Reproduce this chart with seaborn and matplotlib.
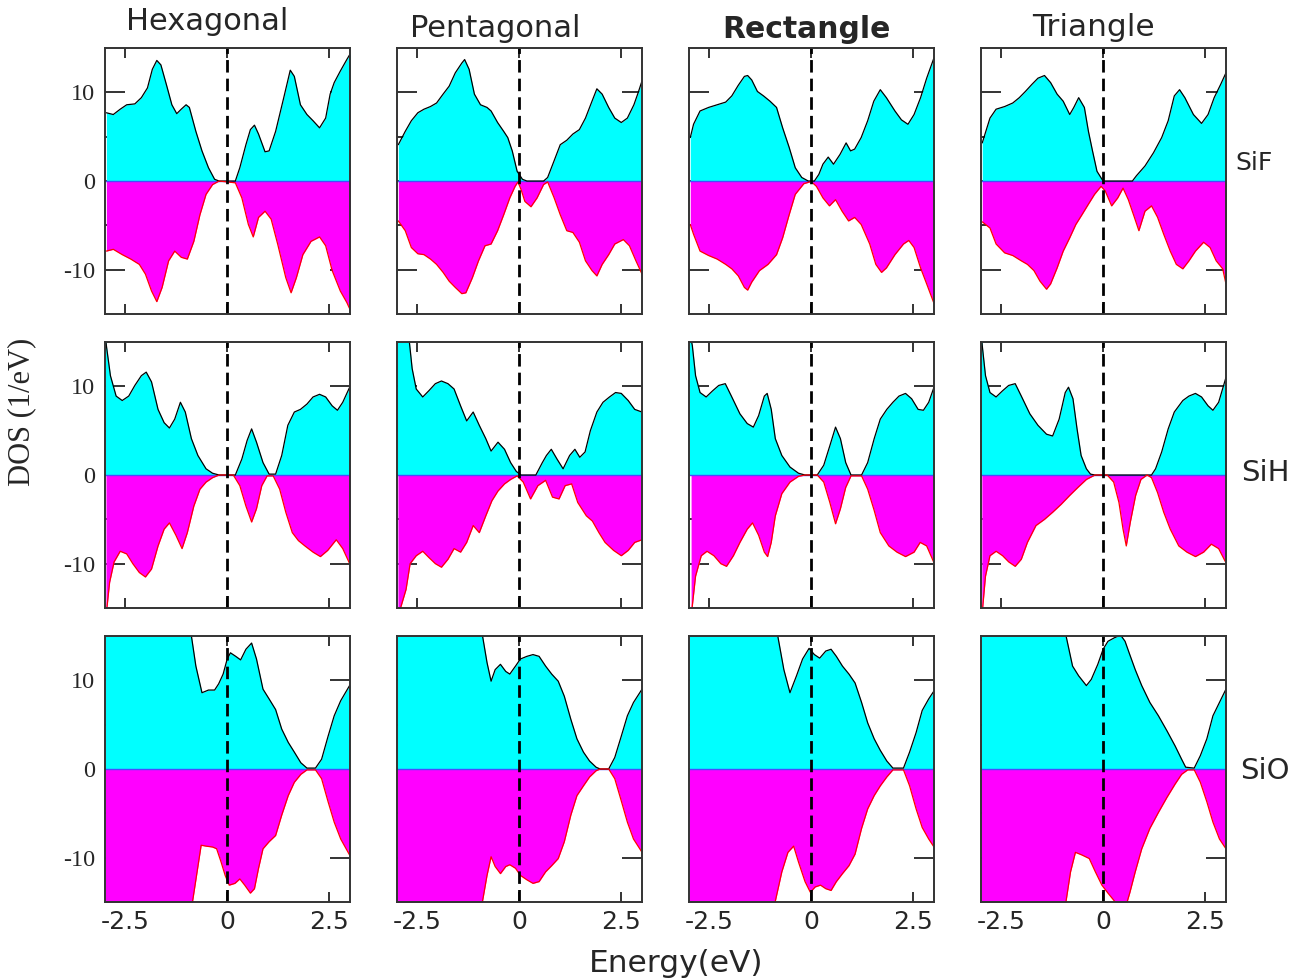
import numpy as np
import matplotlib
matplotlib.use("Agg")
import matplotlib.pyplot as plt
import seaborn as sns

# ---- spin-resolved DOS, (energy eV, DOS 1/eV); spin-down stored as magnitudes ----
HEX_SIF_UP = [(-2.97, 7.7), (-2.8, 7.5), (-2.63, 8.1), (-2.47, 8.6), (-2.27, 8.7), (-2.11, 9.4), (-1.96, 10.5),
              (-1.84, 12.6), (-1.73, 13.6), (-1.63, 13.1), (-1.49, 10.8), (-1.36, 8.6), (-1.24, 7.6), (-1.13, 8.1),
              (-1.01, 8.6), (-0.93, 8.3), (-0.77, 5.6), (-0.62, 3.4), (-0.46, 1.5), (-0.31, 0.2), (-0.2, 0.0),
              (0.2, 0.0), (0.31, 1.5), (0.46, 4.1), (0.57, 5.8), (0.67, 6.3), (0.77, 5.3), (0.93, 3.3), (1.03, 3.4),
              (1.19, 5.6), (1.39, 9.4), (1.55, 12.5), (1.65, 11.8), (1.8, 8.6), (1.96, 7.5), (2.11, 6.8), (2.27, 6.0),
              (2.42, 7.1), (2.53, 9.8), (2.63, 11.1), (2.78, 12.4), (2.94, 13.7), (3.03, 14.4)]
HEX_SIF_DN = [(-2.97, 7.9), (-2.8, 7.7), (-2.58, 8.3), (-2.37, 8.8), (-2.16, 9.4), (-2.01, 10.5), (-1.86, 12.4),
              (-1.73, 13.6), (-1.6, 12.0), (-1.44, 9.0), (-1.29, 7.9), (-1.13, 8.6), (-0.98, 8.8), (-0.82, 6.8),
              (-0.67, 3.8), (-0.52, 1.5), (-0.36, 0.4), (-0.2, 0.0), (0.2, 0.2), (0.36, 1.9), (0.52, 4.9),
              (0.64, 6.3), (0.77, 4.1), (0.93, 3.4), (1.08, 4.3), (1.24, 7.1), (1.44, 10.9), (1.57, 12.6),
              (1.7, 10.9), (1.86, 8.3), (2.06, 6.8), (2.27, 6.3), (2.42, 7.3), (2.58, 10.1), (2.78, 12.4),
              (2.94, 13.7), (3.03, 14.6)]

PENT_SIF_UP = [(-2.97, 4.1), (-2.8, 5.6), (-2.65, 6.8), (-2.49, 7.7), (-2.34, 8.1), (-2.18, 8.4), (-2.03, 8.8),
               (-1.87, 9.8), (-1.72, 10.7), (-1.57, 12.2), (-1.41, 13.3), (-1.34, 13.7), (-1.23, 12.6), (-1.1, 9.8),
               (-0.95, 8.6), (-0.79, 8.3), (-0.69, 7.9), (-0.53, 6.6), (-0.38, 5.6), (-0.28, 4.9), (-0.17, 3.4),
               (-0.05, 1.1), (0.08, 0.2), (0.19, 0.0), (0.6, 0.0), (0.7, 0.4), (0.86, 2.3), (1.01, 4.1),
               (1.17, 4.6), (1.32, 5.3), (1.48, 5.8), (1.63, 7.1), (1.79, 9.0), (1.91, 10.4), (2.04, 9.8),
               (2.2, 8.3), (2.35, 7.1), (2.51, 6.6), (2.66, 7.1), (2.82, 8.6), (2.92, 9.9), (3.02, 11.3)]
PENT_SIF_DN = [(-2.97, 4.5), (-2.8, 5.6), (-2.65, 7.5), (-2.49, 8.2), (-2.34, 8.3), (-2.18, 8.8), (-2.03, 9.4),
               (-1.87, 10.3), (-1.72, 11.3), (-1.57, 12.0), (-1.41, 12.7), (-1.31, 12.6), (-1.15, 10.9),
               (-1.0, 9.0), (-0.84, 7.3), (-0.69, 7.1), (-0.53, 5.6), (-0.38, 3.8), (-0.23, 1.9), (-0.1, 0.6),
               (-0.03, 0.1), (0.05, 1.0), (0.14, 2.3), (0.29, 2.9), (0.44, 1.9), (0.6, 0.4), (0.7, 0.1),
               (0.86, 1.9), (1.01, 3.8), (1.17, 5.6), (1.32, 5.8), (1.48, 6.9), (1.63, 9.0), (1.79, 10.1),
               (1.91, 10.7), (2.04, 9.4), (2.2, 8.3), (2.35, 7.1), (2.56, 6.6), (2.71, 7.3), (2.87, 9.0),
               (3.02, 10.5)]

RECT_SIF_UP = [(-2.97, 4.9), (-2.89, 6.4), (-2.73, 7.9), (-2.52, 8.3), (-2.31, 8.6), (-2.1, 8.9), (-1.95, 9.6),
               (-1.79, 10.8), (-1.64, 11.8), (-1.56, 11.9), (-1.46, 11.4), (-1.32, 10.1), (-1.17, 9.6),
               (-1.01, 9.0), (-0.85, 8.3), (-0.7, 6.0), (-0.54, 3.8), (-0.39, 1.5), (-0.23, 0.4), (-0.07, 0.0),
               (0.08, 0.0), (0.19, 0.75), (0.29, 1.9), (0.42, 2.7), (0.55, 1.9), (0.71, 3.0), (0.86, 4.3),
               (0.97, 3.4), (1.07, 3.6), (1.23, 4.9), (1.39, 6.8), (1.54, 9.0), (1.7, 10.3), (1.85, 9.4),
               (2.06, 7.9), (2.22, 6.9), (2.38, 6.4), (2.53, 7.5), (2.69, 9.4), (2.84, 11.6), (3.02, 13.9)]
RECT_SIF_DN = [(-2.97, 4.9), (-2.89, 6.0), (-2.73, 7.9), (-2.52, 8.4), (-2.31, 8.8), (-2.1, 9.4), (-1.95, 9.9),
               (-1.79, 10.7), (-1.64, 12.0), (-1.56, 12.3), (-1.46, 11.4), (-1.27, 10.1), (-1.06, 9.4),
               (-0.85, 8.3), (-0.7, 6.4), (-0.54, 3.8), (-0.39, 1.5), (-0.18, 0.3), (0.0, 0.05), (0.13, 0.6),
               (0.29, 1.9), (0.45, 2.8), (0.6, 2.1), (0.76, 3.4), (0.92, 4.5), (1.07, 4.1), (1.23, 4.9),
               (1.44, 7.1), (1.59, 9.4), (1.73, 10.3), (1.85, 9.8), (2.06, 8.3), (2.27, 7.1), (2.4, 6.7),
               (2.53, 7.5), (2.69, 9.8), (2.84, 11.6), (3.02, 13.8)]

TRI_SIF_UP = [(-2.97, 4.3), (-2.78, 7.1), (-2.63, 8.1), (-2.42, 8.4), (-2.22, 8.8), (-2.06, 9.4), (-1.91, 10.1),
              (-1.75, 10.9), (-1.6, 11.6), (-1.44, 11.9), (-1.29, 11.1), (-1.13, 9.8), (-0.98, 9.0), (-0.82, 7.5),
              (-0.72, 8.3), (-0.6, 9.4), (-0.46, 8.3), (-0.36, 5.6), (-0.26, 3.4), (-0.15, 1.1), (0.0, 0.0),
              (0.72, 0.0), (0.82, 0.6), (1.03, 1.7), (1.24, 3.2), (1.44, 4.9), (1.6, 6.8), (1.75, 9.6),
              (1.88, 10.3), (2.01, 9.4), (2.22, 7.5), (2.42, 6.5), (2.58, 7.5), (2.73, 9.4), (2.89, 10.9),
              (3.02, 12.2)]
TRI_SIF_DN = [(-2.97, 4.6), (-2.78, 5.3), (-2.63, 7.1), (-2.42, 8.1), (-2.22, 8.4), (-2.01, 9.0), (-1.86, 9.4),
              (-1.7, 10.1), (-1.55, 11.3), (-1.39, 12.2), (-1.29, 11.6), (-1.13, 9.8), (-0.98, 7.9), (-0.82, 6.4),
              (-0.67, 4.9), (-0.52, 3.8), (-0.36, 2.6), (-0.21, 1.5), (-0.05, 0.6), (0.05, 1.1), (0.21, 2.8),
              (0.36, 1.9), (0.49, 0.8), (0.62, 2.1), (0.77, 4.1), (0.88, 5.6), (1.03, 3.4), (1.19, 2.8),
              (1.34, 4.1), (1.49, 6.0), (1.65, 7.9), (1.8, 9.4), (1.96, 9.9), (2.11, 9.0), (2.27, 7.9),
              (2.47, 6.9), (2.63, 7.5), (2.78, 9.0), (2.94, 9.9), (3.02, 11.6)]

HEX_SIH_UP = [(-3.0, 16.0), (-2.97, 14.6), (-2.87, 11.2), (-2.73, 8.9), (-2.58, 8.4), (-2.42, 8.9), (-2.27, 10.1),
              (-2.11, 11.2), (-1.99, 11.6), (-1.86, 10.5), (-1.7, 7.4), (-1.55, 5.9), (-1.42, 5.3), (-1.29, 6.3),
              (-1.15, 8.2), (-1.03, 7.1), (-0.88, 4.1), (-0.72, 2.2), (-0.52, 0.7), (-0.36, 0.2), (-0.2, 0.0),
              (0.2, 0.0), (0.36, 1.8), (0.49, 3.9), (0.6, 5.2), (0.72, 3.7), (0.88, 1.4), (1.03, 0.1), (1.19, 0.1),
              (1.34, 2.2), (1.49, 5.6), (1.65, 7.1), (1.8, 7.4), (1.96, 8.0), (2.11, 8.8), (2.27, 9.1),
              (2.42, 8.8), (2.58, 7.8), (2.71, 7.3), (2.84, 8.2), (3.02, 10.0)]
HEX_SIH_DN = [(-2.98, 16.0), (-2.89, 12.1), (-2.78, 9.8), (-2.63, 8.6), (-2.47, 8.9), (-2.32, 10.0),
              (-2.16, 11.0), (-2.01, 11.5), (-1.86, 10.6), (-1.7, 8.0), (-1.55, 6.1), (-1.42, 5.4), (-1.26, 6.8),
              (-1.11, 8.3), (-0.98, 6.5), (-0.82, 3.5), (-0.67, 1.6), (-0.52, 0.8), (-0.36, 0.3), (-0.2, 0.0),
              (0.15, 0.0), (0.31, 1.2), (0.46, 3.5), (0.6, 5.3), (0.72, 3.8), (0.85, 1.2), (0.98, 0.1),
              (1.13, 0.1), (1.29, 1.6), (1.44, 4.2), (1.6, 6.5), (1.75, 7.4), (1.91, 8.0), (2.11, 8.7),
              (2.29, 9.2), (2.47, 8.5), (2.68, 7.3), (2.84, 8.3), (3.02, 10.1)]

PENT_SIH_UP = [(-3.0, 17.0), (-2.71, 15.5), (-2.63, 12.0), (-2.53, 9.7), (-2.37, 8.8), (-2.22, 9.5),
               (-2.06, 10.3), (-1.91, 10.6), (-1.75, 10.3), (-1.6, 9.7), (-1.44, 7.8), (-1.29, 6.1), (-1.13, 7.1),
               (-0.98, 5.6), (-0.82, 4.1), (-0.69, 2.7), (-0.52, 3.7), (-0.36, 2.9), (-0.21, 1.4), (-0.07, 0.4),
               (0.05, 0.0), (0.41, 0.0), (0.57, 1.4), (0.67, 2.2), (0.79, 2.9), (0.93, 1.8), (1.08, 0.7),
               (1.24, 2.2), (1.37, 2.9), (1.49, 2.0), (1.62, 2.6), (1.75, 5.0), (1.91, 7.1), (2.06, 8.2),
               (2.22, 8.8), (2.37, 9.3), (2.51, 9.2), (2.68, 8.4), (2.84, 7.4), (3.02, 7.1)]
PENT_SIH_DN = [(-2.98, 16.0), (-2.78, 12.9), (-2.68, 10.0), (-2.53, 9.1), (-2.37, 8.6), (-2.22, 9.3),
               (-2.06, 10.0), (-1.91, 10.4), (-1.75, 9.5), (-1.6, 8.3), (-1.44, 8.7), (-1.29, 7.6), (-1.13, 5.7),
               (-0.98, 6.5), (-0.82, 4.6), (-0.67, 2.9), (-0.52, 1.8), (-0.36, 1.0), (-0.21, 0.5), (-0.05, 0.1),
               (0.1, 0.8), (0.28, 2.7), (0.46, 1.2), (0.65, 0.6), (0.82, 2.5), (0.98, 2.7), (1.13, 1.2),
               (1.29, 1.0), (1.44, 3.1), (1.65, 4.6), (1.8, 5.2), (1.96, 6.5), (2.11, 7.6), (2.32, 8.5),
               (2.51, 9.1), (2.68, 8.5), (2.84, 7.6), (3.02, 7.3)]

RECT_SIH_UP = [(-3.0, 16.5), (-2.92, 14.6), (-2.84, 11.2), (-2.73, 9.3), (-2.58, 8.8), (-2.42, 9.5), (-2.27, 10.1),
               (-2.11, 10.3), (-1.96, 8.9), (-1.75, 6.9), (-1.57, 5.8), (-1.42, 5.4), (-1.29, 6.7), (-1.15, 8.9),
               (-1.08, 9.2), (-0.98, 7.4), (-0.88, 4.1), (-0.72, 2.2), (-0.52, 0.9), (-0.31, 0.2), (-0.15, 0.0),
               (0.15, 0.0), (0.31, 1.1), (0.46, 3.3), (0.6, 5.4), (0.72, 4.1), (0.85, 1.4), (0.98, 0.0),
               (1.24, 0.0), (1.39, 1.4), (1.55, 4.1), (1.7, 6.3), (1.86, 7.4), (2.01, 8.2), (2.16, 8.9),
               (2.32, 9.2), (2.47, 8.6), (2.63, 7.4), (2.76, 7.3), (2.89, 8.2), (3.02, 9.9)]
RECT_SIH_DN = [(-2.95, 16.0), (-2.84, 11.4), (-2.7, 9.1), (-2.56, 8.6), (-2.39, 9.1), (-2.22, 10.0),
               (-2.08, 10.3), (-1.91, 9.1), (-1.75, 7.6), (-1.57, 6.1), (-1.44, 5.4), (-1.29, 6.8), (-1.15, 8.7),
               (-1.07, 9.2), (-0.98, 7.6), (-0.88, 4.6), (-0.72, 2.1), (-0.52, 0.8), (-0.31, 0.15), (-0.15, 0.0),
               (0.15, 0.0), (0.31, 0.8), (0.46, 3.1), (0.6, 5.5), (0.72, 3.8), (0.85, 1.4), (0.98, 0.1),
               (1.24, 0.1), (1.39, 1.6), (1.55, 4.0), (1.7, 6.5), (1.91, 8.0), (2.11, 8.7), (2.32, 9.2),
               (2.53, 8.7), (2.68, 7.6), (2.84, 8.0), (3.02, 9.9)]

TRI_SIH_UP = [(-3.0, 16.5), (-2.97, 14.6), (-2.89, 11.2), (-2.78, 9.3), (-2.63, 8.8), (-2.47, 9.5), (-2.32, 10.1),
              (-2.16, 10.3), (-2.01, 8.9), (-1.8, 6.9), (-1.6, 5.6), (-1.39, 4.6), (-1.24, 4.4), (-1.08, 6.3),
              (-0.93, 9.3), (-0.85, 9.9), (-0.74, 8.6), (-0.64, 5.2), (-0.54, 2.2), (-0.41, 0.7), (-0.31, 0.1),
              (-0.2, 0.0), (1.19, 0.0), (1.29, 0.7), (1.44, 2.6), (1.6, 5.2), (1.75, 7.1), (1.96, 8.4),
              (2.11, 8.9), (2.27, 9.2), (2.42, 8.8), (2.58, 7.8), (2.7, 7.3), (2.84, 8.2), (3.02, 11.0)]
TRI_SIH_DN = [(-2.98, 16.0), (-2.89, 11.4), (-2.78, 9.1), (-2.63, 8.6), (-2.47, 9.1), (-2.32, 9.8),
              (-2.16, 10.3), (-2.01, 9.5), (-1.86, 7.6), (-1.65, 5.7), (-1.44, 5.0), (-1.24, 4.2), (-1.03, 3.3),
              (-0.82, 2.3), (-0.62, 1.4), (-0.41, 0.5), (-0.2, 0.0), (0.1, 0.0), (0.26, 0.8), (0.39, 3.1),
              (0.49, 6.1), (0.57, 8.0), (0.67, 5.3), (0.8, 2.3), (0.93, 0.5), (1.08, 0.0), (1.19, 0.3),
              (1.34, 2.0), (1.49, 4.2), (1.65, 6.1), (1.86, 8.0), (2.06, 8.7), (2.27, 9.2), (2.47, 8.7),
              (2.66, 7.8), (2.84, 8.3), (3.02, 9.9)]

HEX_SIO_UP = [(-3.0, 18.0), (-0.93, 18.0), (-0.88, 15.0), (-0.77, 11.6), (-0.62, 8.6), (-0.46, 8.9), (-0.31, 8.9),
              (-0.21, 9.6), (-0.1, 10.7), (0.0, 12.4), (0.08, 13.1), (0.21, 12.7), (0.33, 12.3), (0.46, 13.5),
              (0.6, 14.2), (0.72, 12.4), (0.88, 9.0), (1.03, 7.9), (1.19, 6.7), (1.34, 4.5), (1.5, 3.0),
              (1.65, 1.9), (1.81, 0.7), (1.96, 0.1), (2.17, 0.1), (2.32, 1.1), (2.48, 3.7), (2.63, 6.0),
              (2.79, 7.7), (3.02, 9.5)]
HEX_SIO_DN = [(-3.0, 18.0), (-0.9, 18.0), (-0.85, 14.9), (-0.74, 11.6), (-0.64, 8.6), (-0.52, 8.7), (-0.36, 8.8),
              (-0.26, 9.0), (-0.15, 10.5), (-0.05, 12.0), (0.05, 13.1), (0.19, 12.9), (0.31, 12.4), (0.43, 13.1),
              (0.57, 14.0), (0.67, 13.5), (0.77, 11.2), (0.88, 9.0), (1.03, 8.2), (1.19, 7.5), (1.34, 5.2),
              (1.5, 3.0), (1.65, 1.5), (1.81, 0.6), (1.96, 0.1), (2.17, 0.1), (2.32, 1.1), (2.48, 3.7),
              (2.63, 6.0), (2.79, 7.9), (3.02, 9.8)]

PENT_SIO_UP = [(-3.0, 18.0), (-0.95, 18.0), (-0.9, 15.0), (-0.79, 12.0), (-0.69, 9.9), (-0.59, 11.2),
               (-0.46, 11.8), (-0.33, 11.0), (-0.23, 10.7), (-0.09, 11.6), (0.03, 12.4), (0.19, 12.7),
               (0.34, 12.9), (0.49, 12.7), (0.65, 11.6), (0.8, 10.7), (0.96, 9.9), (1.11, 8.2), (1.27, 5.6),
               (1.42, 3.4), (1.58, 1.9), (1.73, 0.9), (1.89, 0.2), (1.99, 0.0), (2.2, 0.0), (2.35, 1.3),
               (2.51, 3.7), (2.66, 6.0), (2.81, 7.5), (3.02, 9.0)]
PENT_SIO_DN = [(-3.0, 18.0), (-0.95, 18.0), (-0.9, 14.9), (-0.79, 12.0), (-0.69, 9.9), (-0.59, 11.0),
               (-0.46, 11.8), (-0.33, 11.0), (-0.23, 10.8), (-0.09, 11.2), (0.03, 12.0), (0.19, 12.5),
               (0.34, 12.9), (0.49, 12.7), (0.65, 11.6), (0.8, 10.9), (0.96, 10.1), (1.11, 8.2), (1.27, 5.2),
               (1.42, 3.0), (1.58, 1.9), (1.73, 0.9), (1.89, 0.2), (1.99, 0.0), (2.2, 0.0), (2.35, 1.1),
               (2.51, 3.6), (2.66, 6.0), (2.81, 7.9), (3.02, 9.4)]

RECT_SIO_UP = [(-3.0, 18.0), (-0.87, 18.0), (-0.82, 15.0), (-0.67, 11.2), (-0.52, 8.6), (-0.36, 10.5),
               (-0.21, 12.4), (-0.05, 13.6), (0.08, 12.9), (0.21, 12.5), (0.36, 13.3), (0.49, 13.5),
               (0.62, 12.7), (0.77, 11.6), (0.93, 10.7), (1.08, 9.7), (1.24, 7.5), (1.39, 5.2), (1.55, 3.4),
               (1.7, 2.1), (1.86, 0.9), (2.01, 0.1), (2.27, 0.1), (2.42, 1.9), (2.58, 4.1), (2.73, 6.6),
               (2.89, 7.9), (3.02, 8.8)]
RECT_SIO_DN = [(-3.0, 18.0), (-0.93, 18.0), (-0.88, 14.9), (-0.72, 11.6), (-0.57, 9.4), (-0.43, 8.7),
               (-0.31, 10.5), (-0.15, 12.7), (-0.02, 13.9), (0.1, 13.3), (0.23, 13.1), (0.36, 13.5),
               (0.49, 13.7), (0.62, 12.7), (0.77, 11.8), (0.93, 10.9), (1.08, 9.6), (1.24, 6.7), (1.39, 4.5),
               (1.55, 3.0), (1.7, 1.9), (1.86, 0.9), (2.01, 0.1), (2.27, 0.1), (2.42, 1.9), (2.58, 4.5),
               (2.73, 6.6), (2.89, 7.9), (3.02, 8.8)]

TRI_SIO_UP = [(-3.0, 18.0), (-0.96, 18.0), (-0.91, 15.0), (-0.75, 11.6), (-0.6, 10.5), (-0.41, 9.4),
              (-0.29, 10.1), (-0.13, 11.8), (0.0, 13.5), (0.12, 14.4), (0.28, 14.8), (0.43, 15.1), (0.54, 14.4),
              (0.64, 13.1), (0.79, 11.2), (0.95, 9.4), (1.15, 7.5), (1.36, 6.0), (1.57, 4.3), (1.77, 2.6),
              (1.93, 1.1), (2.03, 0.2), (2.24, 0.1), (2.39, 1.5), (2.55, 3.4), (2.7, 6.0), (2.86, 7.5),
              (3.02, 9.0)]
TRI_SIO_DN = [(-3.0, 18.0), (-0.96, 18.0), (-0.91, 14.9), (-0.8, 11.6), (-0.68, 9.4), (-0.52, 9.7),
              (-0.34, 10.1), (-0.19, 11.6), (-0.03, 13.1), (0.12, 14.0), (0.28, 14.9), (0.43, 15.5),
              (0.59, 15.0), (0.66, 13.9), (0.79, 11.6), (0.95, 9.0), (1.15, 6.7), (1.36, 4.9), (1.57, 3.2),
              (1.77, 1.7), (1.93, 0.6), (2.08, 0.1), (2.24, 0.1), (2.39, 1.5), (2.55, 3.7), (2.7, 6.0),
              (2.86, 7.9), (3.02, 9.0)]

STRUCTURES = ["Hexagonal", "Pentagonal", "Rectangle", "Triangle"]
SYSTEMS = ["SiF", "SiH", "SiO"]
X_TICKS = [-2.5, 0, 2.5]
X_TICK_LABELS = ["-2.5", "0", "2.5"]
Y_TICKS = [-10, 0, 10]
Y_TICK_LABELS = ["-10", "0", "10"]

CURVES = {
    ("SiF", "Hexagonal"): (HEX_SIF_UP, HEX_SIF_DN),
    ("SiF", "Pentagonal"): (PENT_SIF_UP, PENT_SIF_DN),
    ("SiF", "Rectangle"): (RECT_SIF_UP, RECT_SIF_DN),
    ("SiF", "Triangle"): (TRI_SIF_UP, TRI_SIF_DN),
    ("SiH", "Hexagonal"): (HEX_SIH_UP, HEX_SIH_DN),
    ("SiH", "Pentagonal"): (PENT_SIH_UP, PENT_SIH_DN),
    ("SiH", "Rectangle"): (RECT_SIH_UP, RECT_SIH_DN),
    ("SiH", "Triangle"): (TRI_SIH_UP, TRI_SIH_DN),
    ("SiO", "Hexagonal"): (HEX_SIO_UP, HEX_SIO_DN),
    ("SiO", "Pentagonal"): (PENT_SIO_UP, PENT_SIO_DN),
    ("SiO", "Rectangle"): (RECT_SIO_UP, RECT_SIO_DN),
    ("SiO", "Triangle"): (TRI_SIO_UP, TRI_SIO_DN),
}

sns.set_style("ticks")
plt.rcParams["font.family"] = ["DejaVu Sans"]
plt.rcParams["axes.unicode_minus"] = False

CYAN = "#00ffff"
MAGENTA = "#ff00ff"
FRAME = "#333333"

fig, axes = plt.subplots(3, 4, figsize=(12.98, 9.8), dpi=100)
fig.subplots_adjust(left=0.081, right=0.9445, top=0.951, bottom=0.0796, wspace=0.192, hspace=0.105)

title_pos = {"Hexagonal": (0.416, 1.098, "normal", 22), "Pentagonal": (0.40, 1.075, "normal", 22),
             "Rectangle": (0.478, 1.068, "bold", 21.5), "Triangle": (0.457, 1.079, "normal", 22.5)}

for r, system in enumerate(SYSTEMS):
    for c, struct in enumerate(STRUCTURES):
        ax = axes[r, c]
        up, dn = CURVES[(system, struct)]
        e_up = np.array([p[0] for p in up]); v_up = np.array([p[1] for p in up])
        e_dn = np.array([p[0] for p in dn]); v_dn = -np.array([p[1] for p in dn])  # spin-down below zero

        ax.fill_between(e_up, 0, v_up, color=CYAN, lw=0, zorder=1)
        ax.fill_between(e_dn, 0, v_dn, color=MAGENTA, lw=0, zorder=1)
        sns.lineplot(x=e_up, y=v_up, ax=ax, color="black", lw=0.9, sort=False, estimator=None, zorder=3)
        sns.lineplot(x=e_dn, y=v_dn, ax=ax, color="red", lw=0.9, sort=False, estimator=None, zorder=3)
        ax.axhline(0, color="#4a4aff", lw=1.0, zorder=2)
        ax.axvline(0, color="black", lw=2.0, ls=(0, (4.5, 2.2)), zorder=4)

        ax.set_xlim(-3.0, 3.02)
        ax.set_ylim(-15, 15)
        ax.set_xticks(X_TICKS)
        ax.set_yticks(Y_TICKS)
        ax.set_yticks([-5, 5], minor=True)
        ax.tick_params(which="both", direction="in", top=True, right=True, color=FRAME, width=1.4)
        ax.tick_params(axis="y", which="major", length=14.5, pad=7)
        ax.tick_params(axis="y", which="minor", length=7.7)
        ax.tick_params(axis="x", which="major", length=7, pad=6)
        ax.set_xlabel(""); ax.set_ylabel("")
        for s in ax.spines.values():
            s.set_color(FRAME)
            s.set_linewidth(1.4)
            s.set_zorder(5)

        if c == 0:
            ax.set_yticklabels(Y_TICK_LABELS, fontfamily="Liberation Serif", fontsize=17.5)
        else:
            ax.tick_params(axis="y", labelleft=False)
        if r == 2:
            ax.set_xticklabels(X_TICK_LABELS, fontsize=18)
        else:
            ax.tick_params(axis="x", labelbottom=False)

        if r == 0:
            tx, ty, w, fs = title_pos[struct]
            ax.text(tx, ty, struct, transform=ax.transAxes, ha="center", va="center",
                    fontsize=fs, fontweight=w)

# row labels on the right
fig.text(1254 / 1298, 1 - 163 / 980, "SiF", ha="center", va="center", fontsize=18)
fig.text(1265 / 1298, 1 - 473 / 980, "SiH", ha="center", va="center", fontsize=21)
fig.text(1265 / 1298, 1 - 771 / 980, "SiO", ha="center", va="center", fontsize=21)

fig.text(676 / 1298, 1 - 963 / 980, "Energy(eV)", ha="center", va="center", fontsize=22.5)
fig.text(22 / 1298, 1 - 412 / 980, "DOS (1/eV)", ha="center", va="center", rotation=90,
         fontsize=22, fontfamily="Liberation Serif")

fig.savefig("out.png", dpi=100)
